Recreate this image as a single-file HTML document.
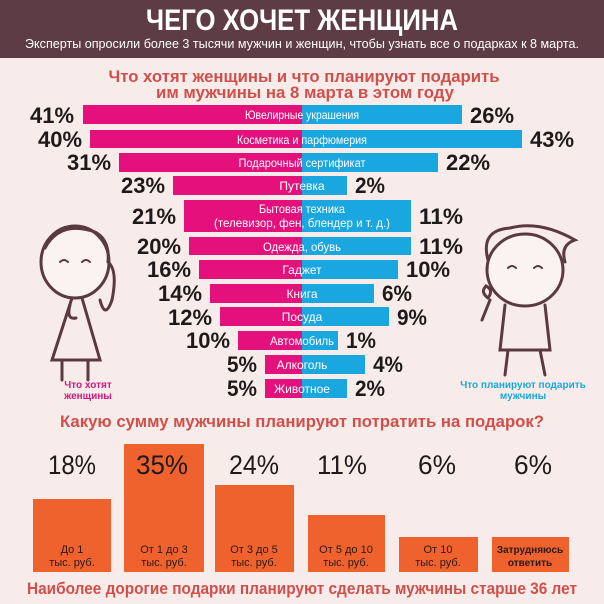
<!DOCTYPE html>
<html><head><meta charset="utf-8"><style>
html,body{margin:0;padding:0;background:#f8ecea;}
svg{display:block;}
text{font-family:"Liberation Sans",sans-serif;}
</style></head><body>
<svg width="604" height="604" viewBox="0 0 604 604" xmlns="http://www.w3.org/2000/svg">
<rect width="604" height="604" fill="#f8ecea"/>
<rect width="604" height="58" fill="#5e3c46"/>
<text x="302" y="30" text-anchor="middle" font-size="30" font-weight="bold" fill="#fff" textLength="312" lengthAdjust="spacingAndGlyphs">ЧЕГО ХОЧЕТ ЖЕНЩИНА</text>
<text x="302" y="48" text-anchor="middle" font-size="13" fill="#fff" textLength="554" lengthAdjust="spacingAndGlyphs">Эксперты опросили более 3 тысячи мужчин и женщин, чтобы узнать все о подарках к 8 марта.</text>
<g fill="#d14f4b" font-weight="bold" font-size="17" text-anchor="middle">
<text x="304" y="82" textLength="391" lengthAdjust="spacingAndGlyphs">Что хотят женщины и что планируют подарить</text>
<text x="305" y="98" textLength="298" lengthAdjust="spacingAndGlyphs">им мужчины на 8 марта в этом году</text>
</g>
<g id="bars">
<rect x="83" y="105" width="219" height="19" fill="#e4117c"/><rect x="302" y="105" width="160" height="19" fill="#1aa7e0"/>
<rect x="90" y="130" width="212" height="18" fill="#e4117c"/><rect x="302" y="130" width="220" height="18" fill="#1aa7e0"/>
<rect x="119" y="153" width="183" height="19" fill="#e4117c"/><rect x="302" y="153" width="136" height="19" fill="#1aa7e0"/>
<rect x="173" y="176" width="129" height="19" fill="#e4117c"/><rect x="302" y="176" width="45" height="19" fill="#1aa7e0"/>
<rect x="184" y="200" width="118" height="32" fill="#e4117c"/><rect x="302" y="200" width="109" height="32" fill="#1aa7e0"/>
<rect x="189" y="237" width="113" height="18" fill="#e4117c"/><rect x="302" y="237" width="109" height="18" fill="#1aa7e0"/>
<rect x="199" y="260" width="103" height="19" fill="#e4117c"/><rect x="302" y="260" width="96" height="19" fill="#1aa7e0"/>
<rect x="210" y="284" width="92" height="19" fill="#e4117c"/><rect x="302" y="284" width="72" height="19" fill="#1aa7e0"/>
<rect x="220" y="307" width="82" height="19" fill="#e4117c"/><rect x="302" y="307" width="87" height="19" fill="#1aa7e0"/>
<rect x="238" y="331" width="64" height="19" fill="#e4117c"/><rect x="302" y="331" width="36" height="19" fill="#1aa7e0"/>
<rect x="265" y="355" width="37" height="19" fill="#e4117c"/><rect x="302" y="355" width="63" height="19" fill="#1aa7e0"/>
<rect x="265" y="379" width="37" height="19" fill="#e4117c"/><rect x="302" y="379" width="45" height="19" fill="#1aa7e0"/>
</g>
<g fill="#fff" font-size="12" text-anchor="middle">
<text x="302" y="119" textLength="114" lengthAdjust="spacingAndGlyphs">Ювелирные украшения</text>
<text x="302" y="144" textLength="130" lengthAdjust="spacingAndGlyphs">Косметика и парфюмерия</text>
<text x="302" y="167" textLength="127" lengthAdjust="spacingAndGlyphs">Подарочный сертификат</text>
<text x="302" y="190">Путевка</text>
<text x="302" y="213" textLength="86" lengthAdjust="spacingAndGlyphs">Бытовая техника</text>
<text x="302" y="227" textLength="176" lengthAdjust="spacingAndGlyphs">(телевизор, фен, блендер и т. д.)</text>
<text x="302" y="251" textLength="78" lengthAdjust="spacingAndGlyphs">Одежда, обувь</text>
<text x="302" y="274">Гаджет</text>
<text x="302" y="298">Книга</text>
<text x="302" y="321">Посуда</text>
<text x="302" y="345" textLength="64" lengthAdjust="spacingAndGlyphs">Автомобиль</text>
<text x="302" y="369">Алкоголь</text>
<text x="302" y="393">Животное</text>
</g>
<g fill="#1e1a1c" font-size="22" font-weight="bold" text-anchor="end" lengthAdjust="spacingAndGlyphs">
<text x="74" y="123" textLength="44" lengthAdjust="spacingAndGlyphs">41%</text>
<text x="82" y="147" textLength="44" lengthAdjust="spacingAndGlyphs">40%</text>
<text x="111" y="170" textLength="44" lengthAdjust="spacingAndGlyphs">31%</text>
<text x="165" y="193" textLength="44" lengthAdjust="spacingAndGlyphs">23%</text>
<text x="176" y="224" textLength="44" lengthAdjust="spacingAndGlyphs">21%</text>
<text x="181" y="254" textLength="44" lengthAdjust="spacingAndGlyphs">20%</text>
<text x="191" y="277" textLength="44" lengthAdjust="spacingAndGlyphs">16%</text>
<text x="202" y="301" textLength="44" lengthAdjust="spacingAndGlyphs">14%</text>
<text x="212" y="325" textLength="44" lengthAdjust="spacingAndGlyphs">12%</text>
<text x="230" y="348" textLength="44" lengthAdjust="spacingAndGlyphs">10%</text>
<text x="257" y="372" textLength="30" lengthAdjust="spacingAndGlyphs">5%</text>
<text x="257" y="396" textLength="30" lengthAdjust="spacingAndGlyphs">5%</text>
</g>
<g fill="#1e1a1c" font-size="22" font-weight="bold">
<text x="470" y="123" textLength="44" lengthAdjust="spacingAndGlyphs">26%</text>
<text x="530" y="147" textLength="44" lengthAdjust="spacingAndGlyphs">43%</text>
<text x="446" y="170" textLength="44" lengthAdjust="spacingAndGlyphs">22%</text>
<text x="355" y="193" textLength="30" lengthAdjust="spacingAndGlyphs">2%</text>
<text x="419" y="224" textLength="44" lengthAdjust="spacingAndGlyphs">11%</text>
<text x="419" y="254" textLength="44" lengthAdjust="spacingAndGlyphs">11%</text>
<text x="406" y="277" textLength="44" lengthAdjust="spacingAndGlyphs">10%</text>
<text x="382" y="301" textLength="30" lengthAdjust="spacingAndGlyphs">6%</text>
<text x="397" y="325" textLength="30" lengthAdjust="spacingAndGlyphs">9%</text>
<text x="346" y="348" textLength="30" lengthAdjust="spacingAndGlyphs">1%</text>
<text x="373" y="372" textLength="30" lengthAdjust="spacingAndGlyphs">4%</text>
<text x="355" y="396" textLength="30" lengthAdjust="spacingAndGlyphs">2%</text>
</g>
<!-- girl -->
<g fill="none" stroke="#5a3a40" stroke-width="3" stroke-linecap="round">
<ellipse cx="75" cy="262" rx="34" ry="36" fill="#fbf3f1"/>
<path d="M45 248 Q60 220 95 232 Q110 240 108 262 Q118 270 112 300 Q105 320 100 300"/>
<path d="M60 262 q4 -4 8 0 M82 262 q4 -4 8 0" stroke-width="2"/>
<path d="M72 298 L52 360 L100 360 L82 298"/>
<path d="M62 360 L62 380 M88 360 L88 380" />
<path d="M70 305 Q66 320 76 318"/>
</g>
<g font-size="10" font-weight="bold" fill="#d4177f" text-anchor="middle">
<text x="88" y="388">Что хотят</text>
<text x="88" y="399">женщины</text>
</g>
<!-- boy -->
<g fill="none" stroke="#5a3a40" stroke-width="3" stroke-linecap="round">
<ellipse cx="525" cy="270" rx="38" ry="36" fill="#fbf3f1"/>
<path d="M488 260 Q480 230 510 228 Q540 220 575 240 Q560 245 565 262"/>
<path d="M508 268 q4 -4 8 0 M534 268 q4 -4 8 0" stroke-width="2"/>
<path d="M505 305 L500 350 L550 350 L545 305"/>
<path d="M508 350 L505 375 M540 350 L545 375"/>
<path d="M490 300 l-8 20 M488 298 q-8 -6 -2 -12 q8 4 2 12"/>
</g>
<g font-size="10" font-weight="bold" fill="#1aa7e0" text-anchor="middle">
<text x="523" y="388">Что планируют подарить</text>
<text x="523" y="399">мужчины</text>
</g>
<text x="302" y="427" text-anchor="middle" font-size="17" font-weight="bold" fill="#d14f4b" textLength="484" lengthAdjust="spacingAndGlyphs">Какую сумму мужчины планируют потратить на подарок?</text>
<g fill="#f0622d">
<rect x="33" y="499" width="78" height="73"/>
<rect x="124" y="444" width="80" height="128"/>
<rect x="215" y="485" width="79" height="87"/>
<rect x="308" y="515" width="77" height="57"/>
<rect x="399" y="537" width="79" height="35"/>
<rect x="492" y="537" width="77" height="35"/>
</g>
<g fill="#1e1a1c" font-size="27" text-anchor="middle">
<text x="72" y="474" textLength="48" lengthAdjust="spacingAndGlyphs">18%</text>
<text x="162" y="474" textLength="52" lengthAdjust="spacingAndGlyphs">35%</text>
<text x="254" y="474" textLength="50" lengthAdjust="spacingAndGlyphs">24%</text>
<text x="342" y="474" textLength="50" lengthAdjust="spacingAndGlyphs">11%</text>
<text x="437" y="474" textLength="38" lengthAdjust="spacingAndGlyphs">6%</text>
<text x="533" y="474" textLength="38" lengthAdjust="spacingAndGlyphs">6%</text>
</g>
<g fill="#2a1a18" font-size="11" text-anchor="middle">
<text x="72" y="553">До 1</text><text x="72" y="566">тыс. руб.</text>
<text x="164" y="553">От 1 до 3</text><text x="164" y="566">тыс. руб.</text>
<text x="254" y="553">От 3 до 5</text><text x="254" y="566">тыс. руб.</text>
<text x="346" y="553">От 5 до 10</text><text x="346" y="566">тыс. руб.</text>
<text x="438" y="553">От 10</text><text x="438" y="566">тыс. руб.</text>
<text x="530" y="553" font-weight="bold" font-size="10">Затрудняюсь</text><text x="530" y="566" font-weight="bold" font-size="10">ответить</text>
</g>
<text x="302" y="594" text-anchor="middle" font-size="17" font-weight="bold" fill="#d14f4b" textLength="550" lengthAdjust="spacingAndGlyphs">Наиболее дорогие подарки планируют сделать мужчины старше 36 лет</text>
</svg>
</body></html>
